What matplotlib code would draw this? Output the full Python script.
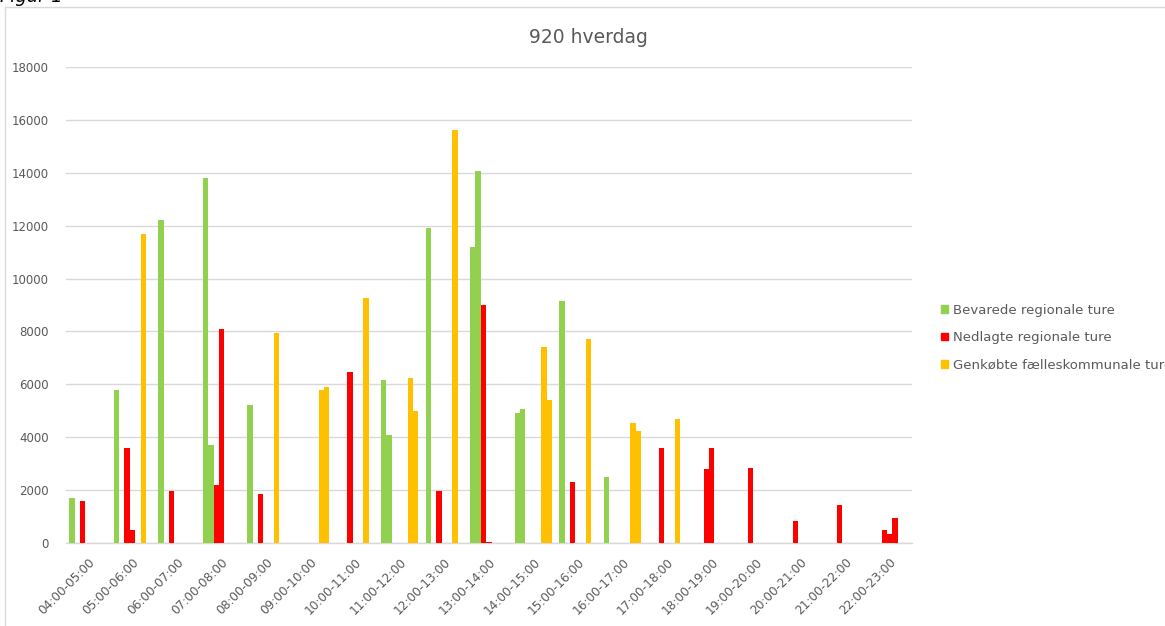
import matplotlib
matplotlib.use("Agg")
import matplotlib.pyplot as plt
from matplotlib.patches import Patch, Rectangle
import numpy as np

# hourly time bands on the x axis
bands = ["04:00-05:00", "05:00-06:00", "06:00-07:00", "07:00-08:00", "08:00-09:00",
         "09:00-10:00", "10:00-11:00", "11:00-12:00", "12:00-13:00", "13:00-14:00",
         "14:00-15:00", "15:00-16:00", "16:00-17:00", "17:00-18:00", "18:00-19:00",
         "19:00-20:00", "20:00-21:00", "21:00-22:00", "22:00-23:00"]

# passengers per trip, one list per departure slot in each band
bevarede_1 = [1700, 5800, 12200, 13800, 5200, 0, 0, 6150, 11900, 11200,
              4900, 9150, 2500, 0, 0, 0, 0, 0, 0]
bevarede_2 = [0, 0, 0, 3700, 0, 0, 0, 4100, 0, 14050,
              5050, 0, 0, 0, 0, 0, 0, 0, 0]
nedlagte_1 = [1600, 3600, 1950, 2200, 1850, 0, 6450, 0, 1950, 9000,
              0, 2300, 0, 3600, 2800, 2850, 850, 1450, 500]
nedlagte_2 = [0, 500, 0, 8100, 0, 0, 0, 0, 0, 50,
              0, 0, 0, 0, 3600, 0, 0, 0, 350]
nedlagte_3 = [0, 0, 0, 0, 0, 0, 0, 0, 0, 0,
              0, 0, 0, 0, 0, 0, 0, 0, 950]
genkobte_1 = [0, 11700, 0, 0, 7950, 5800, 9250, 6250, 15600, 0,
              7400, 7700, 4550, 4700, 0, 0, 0, 0, 0]
genkobte_2 = [0, 0, 0, 0, 0, 5900, 0, 5000, 0, 0,
              5400, 0, 4250, 0, 0, 0, 0, 0, 0]

legend_labels = ["Bevarede regionale ture", "Nedlagte regionale ture",
                 "Genkøbte fælleskommunale ture"]

GREEN = "#92D050"
RED = "#FF0000"
YELLOW = "#FFC000"
TXT = "#595959"
GRID = "#D9D9D9"

slots = [(bevarede_1, GREEN), (bevarede_2, GREEN),
         (nedlagte_1, RED), (nedlagte_2, RED), (nedlagte_3, RED),
         (genkobte_1, YELLOW), (genkobte_2, YELLOW)]

fig = plt.figure(figsize=(11.65, 6.26), dpi=100)
ax = fig.add_axes([0.0564, 0.1326, 0.7264, 0.7604])

x = np.arange(len(bands))
w = 0.12
for j, (vals, col) in enumerate(slots):
    ax.bar(x + (j - 3) * w, vals, width=w, color=col, linewidth=0, zorder=3)

ax.set_xlim(-0.5, len(bands) - 0.5)
ax.set_ylim(0, 18000)
ax.set_yticks(np.arange(0, 18001, 2000))
ax.yaxis.grid(True, color=GRID, linewidth=1.0, zorder=0)
ax.set_axisbelow(True)
for s in ["top", "right", "left"]:
    ax.spines[s].set_visible(False)
ax.spines["bottom"].set_color(GRID)
ax.spines["bottom"].set_linewidth(1.0)

ax.set_xticks(x, bands, rotation=45, ha="right", rotation_mode="anchor")
ax.tick_params(axis="x", length=0, pad=9, labelsize=8.7, labelcolor=TXT)
ax.tick_params(axis="y", length=0, pad=12, labelsize=8.5, labelcolor=TXT)

fig.text(0.505, 0.94, "920 hverdag", ha="center", va="center",
         fontsize=13.5, color=TXT)

handles = [Patch(color=c) for c in (GREEN, RED, YELLOW)]
fig.legend(handles, legend_labels, loc="upper left",
           bbox_to_anchor=(0.8035, 0.523), frameon=False, fontsize=9.5,
           labelcolor=TXT, handlelength=0.5, handleheight=0.5,
           handletextpad=0.4, labelspacing=1.1, borderaxespad=0)

# chart frame and caption above it
fig.patches.append(Rectangle((4.5 / 1165, -0.1), 1.2, 1 - 7 / 626 + 0.1,
                             transform=fig.transFigure, fill=False,
                             edgecolor=GRID, linewidth=1.0))
fig.text(0.0, 1 - 2 / 626, "Figur 1", ha="left", va="baseline",
         fontsize=13, style="italic", color="black")

fig.savefig("out.png", dpi=100)
